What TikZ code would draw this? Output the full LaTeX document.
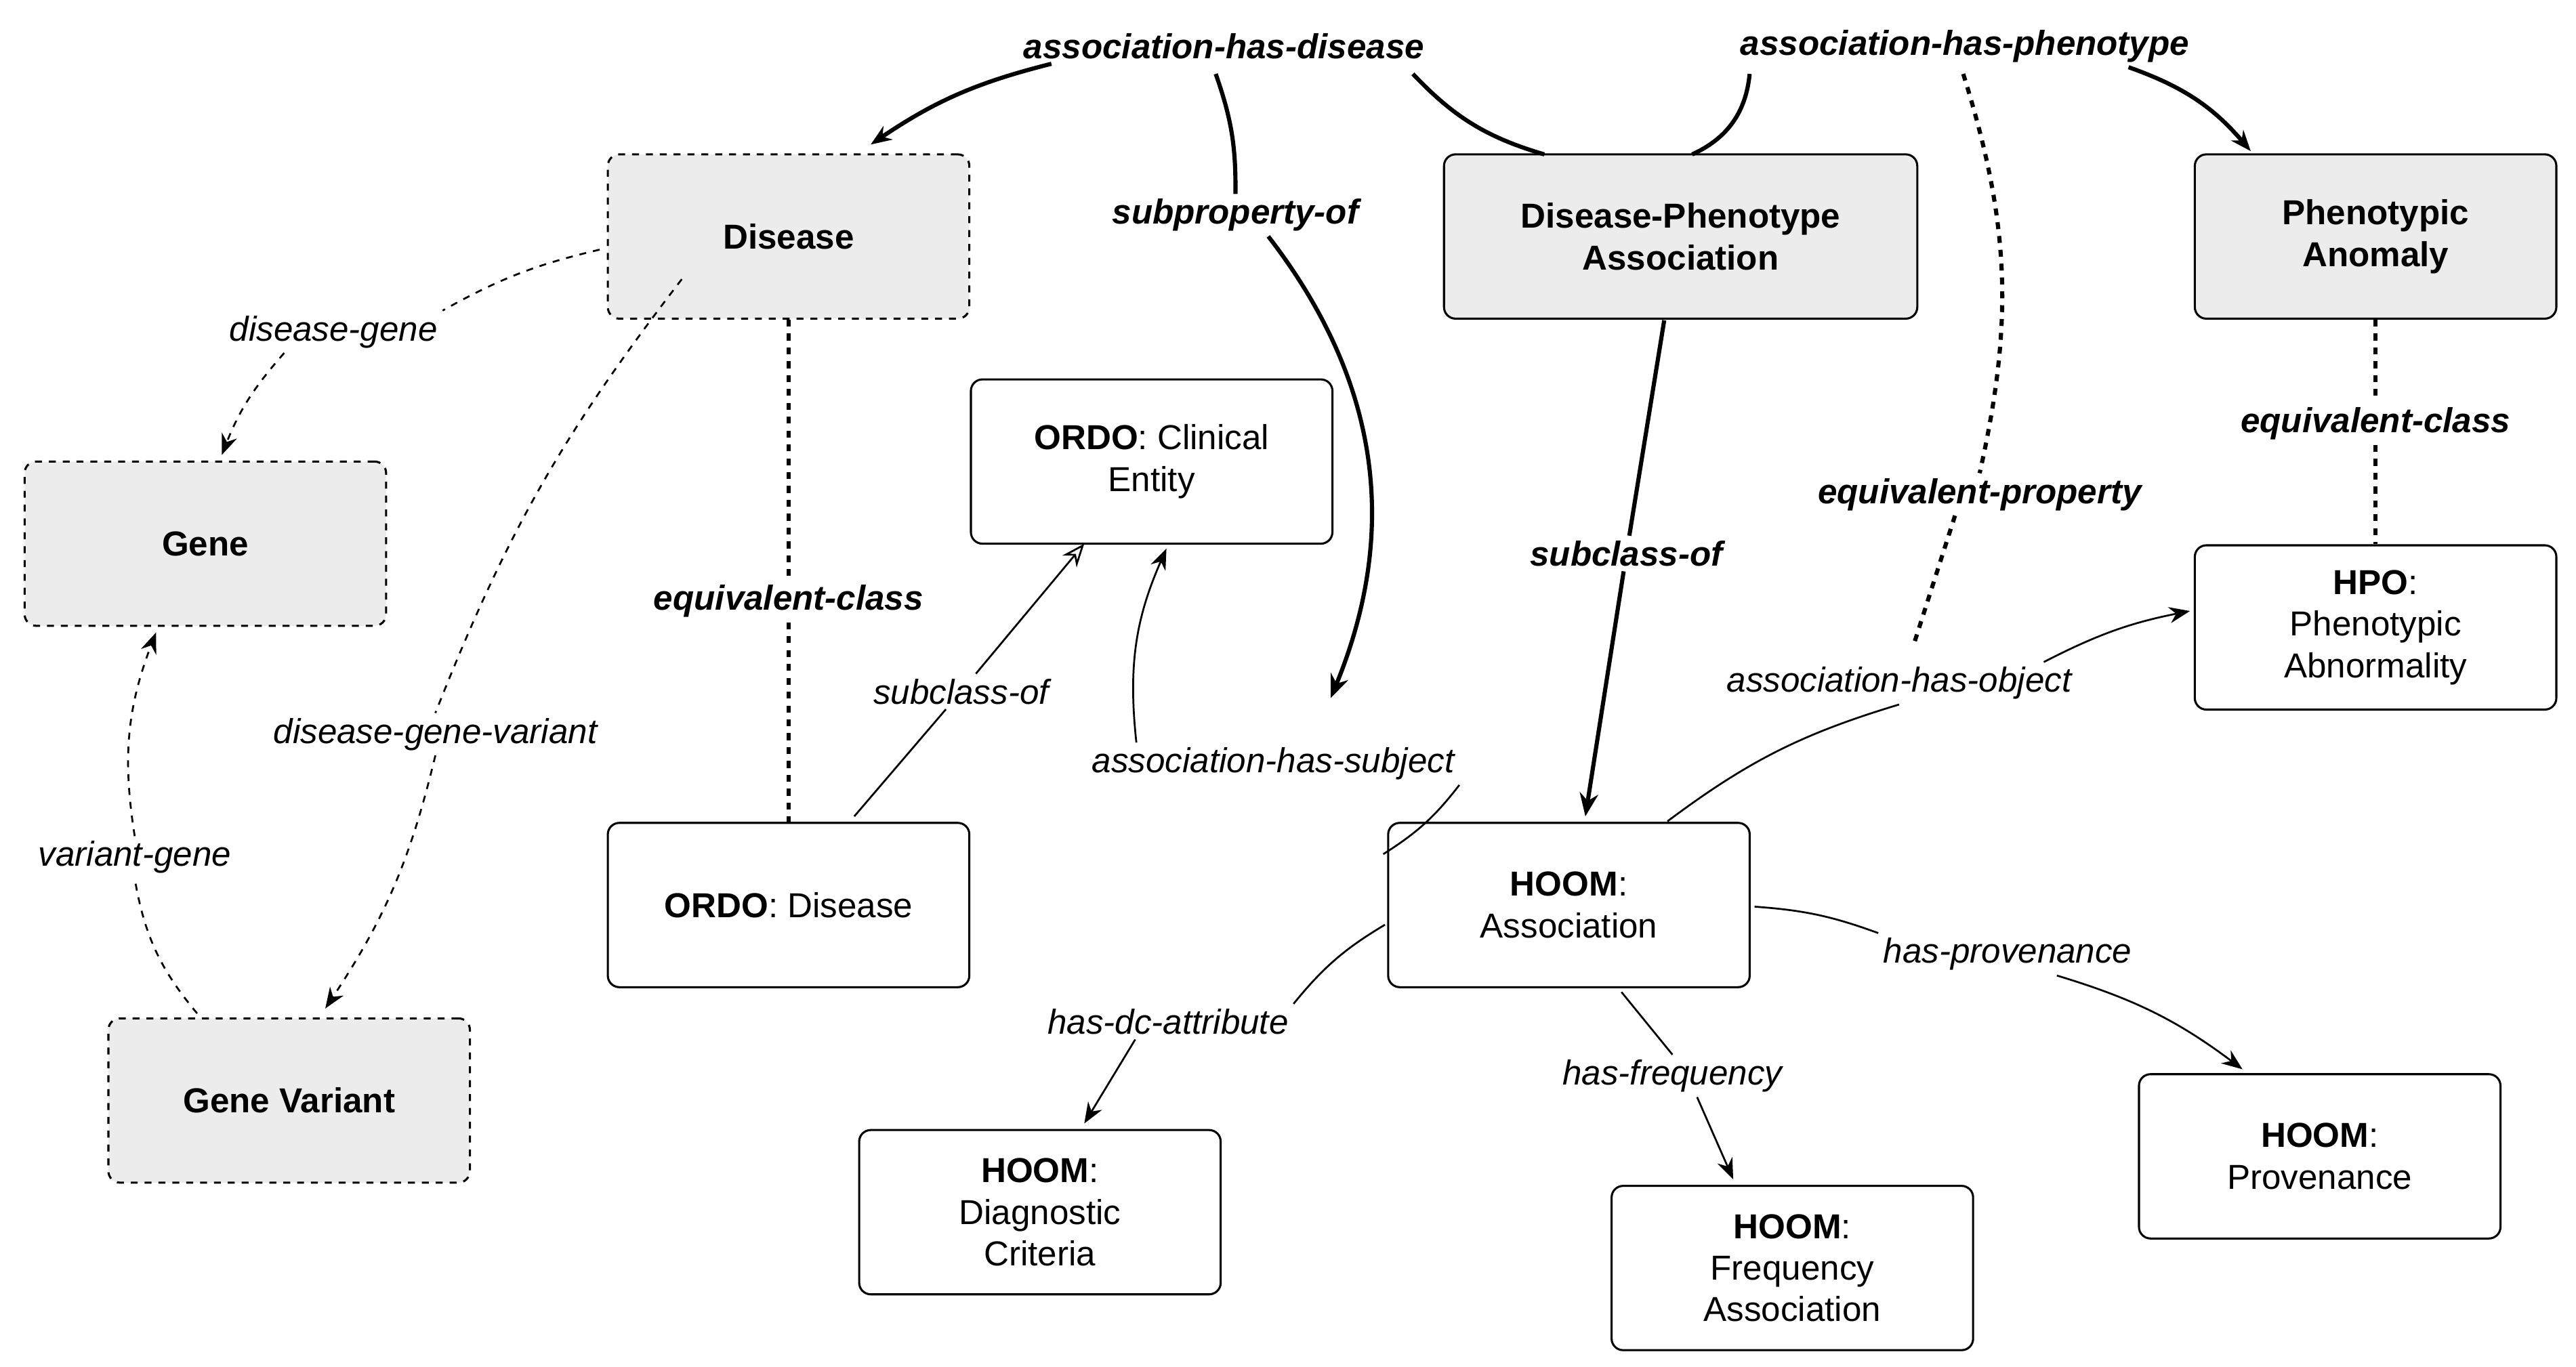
\documentclass[tikz,border=0pt]{standalone}
\usepackage{fontspec}
\setmainfont{Liberation Sans}
\usetikzlibrary{arrows.meta}
\definecolor{boxgray}{HTML}{ECECEC}
\begin{document}
\begin{tikzpicture}[x=0.025cm,y=-0.025cm,
  font=\fontsize{15}{18}\selectfont,
  box/.style={draw,rounded corners=5pt,minimum width=5.5cm,minimum height=2.5cm,align=center,line width=0.9pt},
  gbox/.style={box,fill=boxgray},
  dbox/.style={gbox,dashed},
  lab/.style={font=\fontsize{15}{18}\selectfont\itshape,fill=white,inner sep=2pt},
  blab/.style={lab,font=\fontsize{15}{18}\selectfont\bfseries\itshape},
  thin/.style={line width=0.8pt},
  thk/.style={line width=1.8pt},
  arr/.style={-{Stealth[length=9pt,width=7pt]}},
  oarr/.style={-{Stealth[open,length=10pt,width=8pt]}}]
\useasboundingbox (0,0) rectangle (1568,832);
% nodes
\node[dbox] (dis) at (480,144) {\textbf{Disease}};
\node[dbox] (gene) at (125,331) {\textbf{Gene}};
\node[dbox] (gv) at (176,670) {\textbf{Gene Variant}};
\node[gbox,minimum width=7.2cm] (dpa) at (1023,144) {\textbf{Disease-Phenotype}\\\textbf{Association}};
\node[gbox] (pa) at (1446,144) {\textbf{Phenotypic}\\\textbf{Anomaly}};
\node[box] (ce) at (701,281) {\textbf{ORDO}: Clinical\\Entity};
\node[box] (hpo) at (1446,382) {\textbf{HPO}:\\Phenotypic\\Abnormality};
\node[box] (od) at (480,551) {\textbf{ORDO}: Disease};
\node[box] (ha) at (955,551) {\textbf{HOOM}:\\Association};
\node[box] (dc) at (633,738) {\textbf{HOOM}:\\Diagnostic\\Criteria};
\node[box] (fa) at (1091,772) {\textbf{HOOM}:\\Frequency\\Association};
\node[box] (pv) at (1412,704) {\textbf{HOOM}:\\Provenance};
% labels
\node[blab] (ahd) at (745,28) {association-has-disease};
\node[blab] (ahp) at (1196,28) {association-has-phenotype};
\node[blab] (spo) at (752,131) {subproperty-of};
\node[blab] (eqp) at (1205,301) {equivalent-property};
\node[blab] (eq1) at (480,366) {equivalent-class};
\node[blab] (eq2) at (1446,258) {equivalent-class};
\node[blab] (sco) at (990,337) {subclass-of};
\node[lab] (dg) at (203,202) {disease-gene};
\node[lab] (dgv) at (265,447) {disease-gene-variant};
\node[lab] (vg) at (82,522) {variant-gene};
\node[lab] (sc2) at (585,421) {subclass-of};
\node[lab] (ahs) at (775,465) {association-has-subject};
\node[lab] (aho) at (1156,416) {association-has-object};
\node[lab] (hdc) at (711,622) {has-dc-attribute};
\node[lab] (hf) at (1018,655) {has-frequency};
\node[lab] (hp) at (1222,581) {has-provenance};
% thick property edges
\coordinate (c1) at (860,45);
\coordinate (c2) at (1065,45);
\draw[thk,arr] (ahd.south west) ++(20,0) to[bend right=10] (530,88);
\draw[thk] (940,94) to[bend left=15] (c1);
\draw[thk] (1030,94) to[bend right=30] (c2);
\draw[thk,arr] (ahp.south east) ++(-40,0) to[bend left=15] (1370,92);
\draw[thk] (740,45) to[bend left=10] (spo.north);
\draw[thk,oarr] (spo.south) ++(20,0) to[bend left=30] (810,425);
\draw[thk,dashed] (1195,45) to[bend left=15] (eqp.north);
\draw[thk,dashed] (eqp.south) ++(-15,0) -- (1165,392);
\draw[thk,dashed] (dis) -- (eq1) -- (od);
\draw[thk,dashed] (pa) -- (eq2) -- (hpo);
\draw[thk] (1013,195) -- (sco);
\draw[thk,oarr] (sco) -- (965,497);
% thin dashed edges
\draw[thin,dashed] (365,152) to[bend right=8] (dg.north east);
\draw[thin,dashed,arr] (dg.south) ++(-30,0) to[bend right=10] (135,277);
\draw[thin,dashed] (415,170) to[bend right=8] (dgv.north);
\draw[thin,dashed,arr] (dgv.south) to[bend left=10] (198,614);
\draw[thin,dashed] (120,617) to[bend left=15] (vg.south);
\draw[thin,dashed,arr] (vg.north) to[bend left=15] (95,385);
% thin solid edges
\draw[thin] (520,497) -- (sc2);
\draw[thin,oarr] (sc2) -- (660,331);
\draw[thin] (842,520) to[bend right=10] (ahs.south east);
\draw[thin,arr] (ahs.north west) ++(30,0) to[bend left=15] (710,334);
\draw[thin] (1015,500) to[bend left=10] (aho.south);
\draw[thin,arr] (aho.north east) ++(-20,0) to[bend left=8] (1333,372);
\draw[thin] (843,563) to[bend right=10] (hdc.north east);
\draw[thin,arr] (hdc.south) ++(-20,0) -- (660,684);
\draw[thin] (987,604) -- (hf.north);
\draw[thin,arr] (hf.south) ++(15,0) -- (1055,718);
\draw[thin] (1068,552) to[bend left=8] (hp.north west);
\draw[thin,arr] (hp.south) ++(30,0) to[bend left=10] (1365,651);
\end{tikzpicture}
\end{document}
